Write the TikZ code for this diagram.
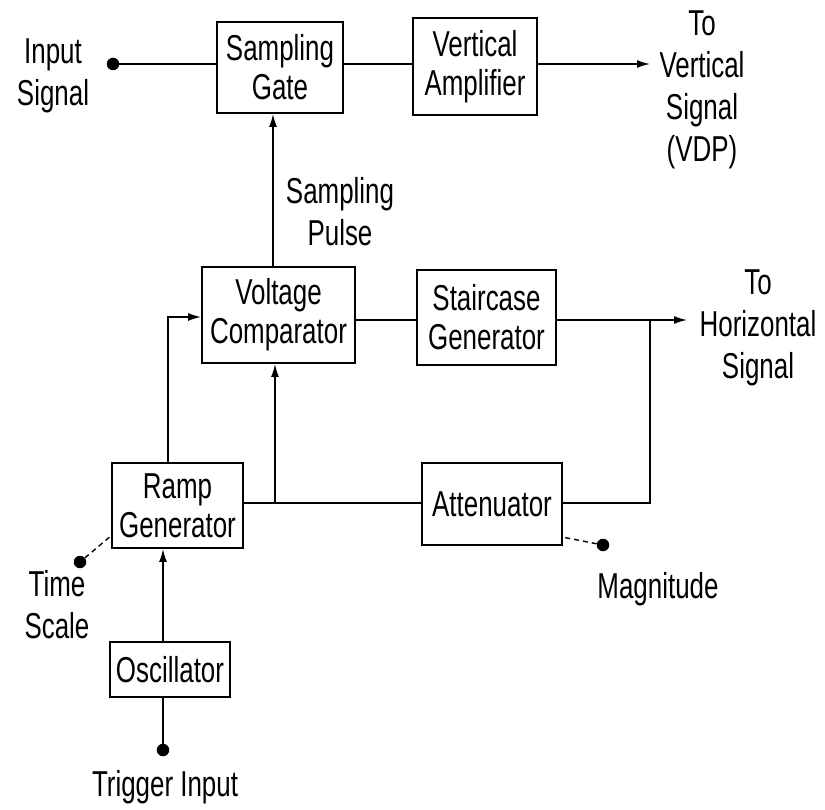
\documentclass[tikz,border=0pt]{standalone}
\usepackage{fontspec}
\setmainfont{Liberation Sans}[FakeStretch=0.72]
\usetikzlibrary{arrows.meta}
\tikzset{
  blk/.style 2 args={draw, line width=1.8pt, minimum width=#1pt, minimum height=#2pt, inner sep=0pt, align=center, font=\fontsize{36}{39}\selectfont},
  lbl/.style={inner sep=0pt, align=center, font=\fontsize{36}{42}\selectfont},
  wire/.style={line width=1.6pt},
  arr/.style={-{Latex[length=13pt,width=8pt]}},
  dot/.style={circle, fill, inner sep=0pt, minimum size=12.5pt},
  dsh/.style={line width=1.4pt, dash pattern=on 5pt off 4pt}
}
\begin{document}
\begin{tikzpicture}[x=1pt,y=-1pt]
\useasboundingbox[fill=white] (0,0) rectangle (825,810);
% blocks
\node[blk={126}{91}] (sg) at (280,67.5) {Sampling\\Gate};
\node[blk={124}{97}] (va) at (475,66.5) {Vertical\\Amplifier};
\node[blk={153}{96}] (vc) at (278.5,315) {Voltage\\Comparator};
\node[blk={139}{95}] (sc) at (486.5,317.5) {Staircase\\Generator};
\node[blk={131}{85}] (rg) at (177.5,505.5) {Ramp\\Generator};
\node[blk={140}{82}] (at) at (492,504) {Attenuator};
\node[blk={120}{55}] (os) at (170,669.5) {Oscillator};
% dots
\node[dot] (indot) at (113,64) {};
\node[dot] (tsdot) at (80,562) {};
\node[dot] (magdot) at (603,545) {};
\node[dot] (trigdot) at (163,750) {};
% labels
\node[lbl] (inlbl) at (53,76) {Input\\Signal};
\node[lbl] (vdp) at (702,90) {To\\Vertical\\Signal\\(VDP)};
\node[lbl] (sp) at (340,212) {Sampling\\Pulse};
\node[lbl] (hz) at (758,328) {To\\Horizontal\\Signal};
\node[lbl] (ts) at (57,605) {Time\\Scale};
\node[lbl] (mag) at (658,589) {Magnitude};
\node[lbl] (trig) at (165,787) {Trigger Input};
% helper coordinates
\coordinate (vout) at (650,64);
\coordinate (hout) at (687,320);
\coordinate (j1) at (650,320);
\coordinate (j2) at (275,503);
\coordinate (rgup) at (168,317);
\coordinate (spx) at (273,0);
\coordinate (osx) at (163,0);
\coordinate (tsend) at (112,535);
\coordinate (magend) at (562,537);
% connectors
\draw[wire] (indot) -- (indot -| sg.west);
\draw[wire] (indot -| sg.east) -- (indot -| va.west);
\draw[wire,arr] (indot -| va.east) -- (vout);
\draw[wire,arr] (spx |- vc.north) -- (spx |- sg.south);
\draw[wire] (hout -| vc.east) -- (hout -| sc.west);
\draw[wire,arr] (hout -| sc.east) -- (hout);
\draw[wire] (j1) -- (j1 |- j2) -- (j2 -| at.east);
\draw[wire] (j2 -| rg.east) -- (j2 -| at.west);
\draw[wire,arr] (j2) -- (j2 |- vc.south);
\draw[wire,arr] (rgup |- rg.north) -- (rgup) -- (rgup -| vc.west);
\draw[wire,arr] (osx |- os.north) -- (osx |- rg.south);
\draw[wire] (trigdot) -- (trigdot |- os.south);
\draw[dsh] (tsdot) -- (tsend);
\draw[dsh] (magdot) -- (magend);
\end{tikzpicture}
\end{document}
